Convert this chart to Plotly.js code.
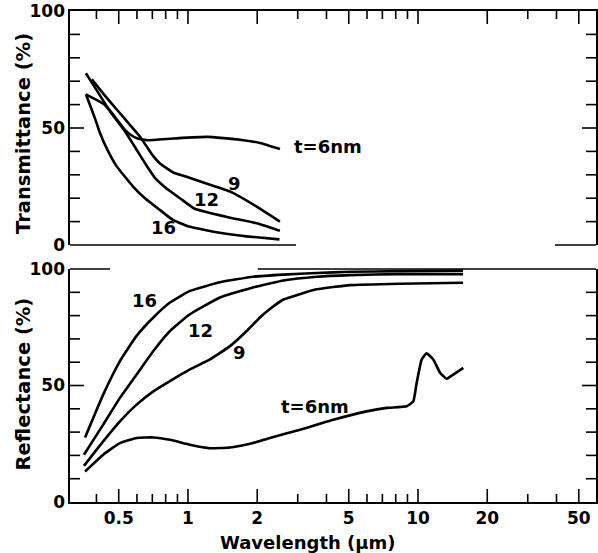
<!DOCTYPE html>
<html>
<head>
<meta charset="utf-8">
<script src="https://cdn.plot.ly/plotly-3.0.1.min.js"></script>
<style>
  html, body { margin: 0; padding: 0; background: #fff; }
  #chart { width: 598px; height: 553px; }
</style>
</head>
<body>
<div id="chart"></div>
<script>
// ---------- Data ----------
// Transmittance panel (wavelength in µm, transmittance in %)
const tWl16 = [0.36, 0.38, 0.40, 0.414, 0.45, 0.49, 0.577, 0.65, 0.75, 0.86, 1.0, 1.2, 1.42, 1.8, 2.5];
const tT16  = [64.4, 58.3, 52.3, 48.0, 40.0, 33.6, 25.0, 20.0, 15.2, 10.7, 8.0, 6.3, 5.0, 3.7, 2.4];

const tWl12 = [0.36, 0.40, 0.458, 0.532, 0.60, 0.66, 0.72, 0.82, 0.923, 1.07, 1.49, 1.99, 2.51];
const tT12  = [73.4, 66.3, 57.2, 48.6, 40.5, 34.0, 28.6, 23.6, 20.0, 15.5, 11.9, 9.3, 6.1];

const tWl9 = [0.382, 0.43, 0.49, 0.55, 0.618, 0.70, 0.756, 0.863, 1.0, 1.21, 1.52, 1.99, 2.51];
const tT9  = [70.8, 64.5, 57.9, 52.2, 46.4, 38.5, 34.8, 31.0, 29.0, 26.2, 22.9, 16.4, 10.0];

const tWl6 = [0.36, 0.43, 0.458, 0.532, 0.565, 0.60, 0.662, 0.861, 1.21, 1.68, 2.06, 2.51];
const tT6  = [64.4, 60.3, 57.4, 49.2, 47.0, 45.6, 44.8, 45.5, 46.2, 45.0, 43.6, 41.0];

// Reflectance panel (wavelength in µm, reflectance in %)
const rWl16 = [0.357, 0.428, 0.506, 0.598, 0.707, 0.835, 1.02, 1.377, 1.92, 2.6, 3.63, 5.06, 8.35, 15.7];
const rR16  = [27.7, 46.1, 60.5, 71.3, 79.2, 85.6, 90.6, 94.3, 96.7, 97.6, 98.3, 98.8, 99.1, 99.3];

const rWl12 = [0.353, 0.428, 0.506, 0.598, 0.707, 0.835, 1.02, 1.377, 1.92, 2.27, 2.6, 3.63, 5.06, 8.35, 15.7];
const rR12  = [20.3, 33.2, 44.7, 54.7, 64.8, 73.4, 80.6, 87.8, 92.1, 93.8, 95.1, 96.7, 97.4, 97.8, 97.8];

const rWl9 = [0.353, 0.428, 0.506, 0.598, 0.707, 0.835, 1.02, 1.246, 1.523, 1.80, 2.055, 2.27, 2.6, 3.63, 5.06, 8.35, 15.7];
const rR9  = [15.5, 26.0, 34.6, 41.8, 47.5, 51.9, 56.9, 61.2, 66.9, 73.4, 79.2, 82.8, 86.9, 91.3, 93.1, 93.7, 94.1];

const rWl6 = [0.357, 0.428, 0.506, 0.598, 0.707, 0.835, 1.02, 1.246, 1.523, 1.92, 2.27, 3.07, 4.28, 5.98, 7.31, 8.93, 9.54, 9.87, 10.38, 10.9, 11.65, 12.47, 13.33, 14.24, 15.74];
const rR6  = [13.1, 20.3, 25.3, 27.5, 27.7, 26.7, 24.6, 23.1, 23.4, 25.3, 27.5, 31.0, 35.3, 38.9, 40.4, 41.1, 43.2, 51.2, 61.2, 63.8, 61.2, 55.5, 52.9, 54.7, 57.6];

// Axis ticks
const xMajorTicks = [0.5, 1, 2, 5, 10, 20, 50];
const xMajorText  = ['0.5', '1', '2', '5', '10', '20', '50'];
const xMinorTicks = [0.4, 0.6, 0.7, 0.8, 0.9, 3, 4, 6, 7, 8, 9, 30, 40];
const yMajorTicks = [0, 50, 100];
const yMajorText  = ['0', '50', '100'];
const yMidTicks   = [50];
const yMinorTicks = [10, 20, 30, 40, 60, 70, 80, 90];

// Curve labels
const tLabels = [
  {text: 't=6nm', wl: 4.06, v: 42},
  {text: '9', wl: 1.6, v: 26.5},
  {text: '12', wl: 1.2, v: 19.3},
  {text: '16', wl: 0.78, v: 7.6}
];
const rLabels = [
  {text: '16', wl: 0.65, v: 86.6},
  {text: '12', wl: 1.13, v: 73.7},
  {text: '9', wl: 1.68, v: 64.1},
  {text: 't=6nm', wl: 3.57, v: 41.1}
];

// ---------- Plot ----------
const FONT = 'DejaVu Sans';
const W = 598, H = 553;
const M = {l: 70, r: 2, t: 11, b: 51};
const plotW = W - M.l - M.r, plotH = H - M.t - M.b;
const xMin = 0.307, xMax = 59.4;
const xRange = [Math.log10(xMin), Math.log10(xMax)];
const topDom = [0.5234, 1];
const botDom = [0, 0.4745];

const lineStyle = {color: '#000', width: 2.6, shape: 'spline', smoothing: 0.4};
function tr(x, y, xa, ya) {
  return {x: x, y: y, xaxis: xa, yaxis: ya, type: 'scatter', mode: 'lines',
          line: lineStyle, hoverinfo: 'skip', showlegend: false};
}
const data = [
  tr(tWl16, tT16, 'x', 'y'), tr(tWl12, tT12, 'x', 'y'),
  tr(tWl9, tT9, 'x', 'y'), tr(tWl6, tT6, 'x', 'y'),
  tr(rWl16, rR16, 'x2', 'y2'), tr(rWl12, rR12, 'x2', 'y2'),
  tr(rWl9, rR9, 'x2', 'y2'), tr(rWl6, rR6, 'x2', 'y2')
];

const tickFont = {family: FONT, size: 17, weight: 'bold', color: '#000'};
function xAxis(anchor, side, labels) {
  return {
    type: 'log', range: xRange, domain: [0, 1], anchor: anchor, side: side,
    showgrid: false, zeroline: false, showline: true, linecolor: '#000', linewidth: 1.6,
    ticks: '', tickmode: 'array', tickvals: xMajorTicks, ticktext: xMajorText,
    showticklabels: labels, tickfont: tickFont, fixedrange: true
  };
}
function yAxis(anchor, dom) {
  return {
    range: [0, 100], domain: dom, anchor: anchor, side: 'left',
    showgrid: false, zeroline: false, showline: true, linecolor: '#000', linewidth: 1.6,
    mirror: true, ticks: '', tickmode: 'array', tickvals: yMajorTicks, ticktext: yMajorText,
    tickfont: tickFont, fixedrange: true
  };
}

// Tick marks: short lines placed at each tick value through the axis range (paper units)
const tickLine = {color: '#000', width: 1.6};
const shapes = [];
const xToPaper = v => (Math.log10(v) - xRange[0]) / (xRange[1] - xRange[0]);
const yToPaper = (v, dom) => dom[0] + (v / 100) * (dom[1] - dom[0]);
function xTicks(yPaper, dir, vals, len) {
  vals.forEach(v => {
    const xp = xToPaper(v);
    shapes.push({type: 'line', xref: 'paper', yref: 'paper',
      x0: xp, x1: xp, y0: yPaper, y1: yPaper + dir * len / plotH, line: tickLine});
  });
}
function yTicks(dom, vals, len) {
  const dx = len / plotW;
  vals.forEach(v => {
    const yp = yToPaper(v, dom);
    shapes.push({type: 'line', xref: 'paper', yref: 'paper', x0: 0, x1: dx, y0: yp, y1: yp, line: tickLine});
    shapes.push({type: 'line', xref: 'paper', yref: 'paper', x0: 1, x1: 1 - dx, y0: yp, y1: yp, line: tickLine});
  });
}
xTicks(topDom[1], -1, xMajorTicks, 13);
xTicks(topDom[1], -1, xMinorTicks, 8);
xTicks(botDom[0], 1, xMajorTicks, 13);
xTicks(botDom[0], 1, xMinorTicks, 8);
yTicks(topDom, yMidTicks, 14);
yTicks(topDom, yMinorTicks, 10);
yTicks(botDom, yMidTicks, 14);
yTicks(botDom, yMinorTicks, 10);

// Frame pieces (broken lines between the two panels, as in the reference)
const frame = {color: '#000', width: 1.6};
shapes.push(
  {type: 'line', xref: 'paper', yref: 'paper', x0: 0, x1: 0.4297, y0: topDom[0], y1: topDom[0], line: frame},
  {type: 'line', xref: 'paper', yref: 'paper', x0: 0.922, x1: 1, y0: topDom[0], y1: topDom[0], line: frame},
  {type: 'line', xref: 'paper', yref: 'paper', x0: 0, x1: 0.076, y0: botDom[1], y1: botDom[1], line: frame},
  {type: 'line', xref: 'paper', yref: 'paper', x0: 0.357, x1: 1, y0: botDom[1], y1: botDom[1], line: frame}
);

const labelFont = {family: FONT, size: 18, weight: 'bold', color: '#000'};
const annotations = [];
tLabels.forEach(l => annotations.push({
  xref: 'x', yref: 'y', x: Math.log10(l.wl), y: l.v, text: l.text,
  showarrow: false, font: labelFont
}));
rLabels.forEach(l => annotations.push({
  xref: 'x2', yref: 'y2', x: Math.log10(l.wl), y: l.v, text: l.text,
  showarrow: false, font: labelFont
}));
const titleFont = {family: FONT, size: 19.5, weight: 'bold', color: '#000'};
annotations.push({xref: 'paper', yref: 'paper', x: -0.0884, y: 0.7505, textangle: -90,
  text: 'Transmittance (%)', showarrow: false, font: titleFont, xanchor: 'center', yanchor: 'middle'});
annotations.push({xref: 'paper', yref: 'paper', x: -0.0884, y: 0.2403, textangle: -90,
  text: 'Reflectance (%)', showarrow: false, font: titleFont, xanchor: 'center', yanchor: 'middle'});
annotations.push({xref: 'paper', yref: 'paper', x: 0.4525, y: -0.0835,
  text: 'Wavelength (µm)', showarrow: false,
  font: {family: FONT, size: 18, weight: 'bold', color: '#000'}, xanchor: 'center', yanchor: 'middle'});

const layout = {
  width: W, height: H,
  margin: M,
  paper_bgcolor: '#fff', plot_bgcolor: '#fff',
  showlegend: false,
  xaxis:  xAxis('y', 'top', false),
  yaxis:  yAxis('x', topDom),
  xaxis2: xAxis('y2', 'bottom', true),
  yaxis2: yAxis('x2', botDom),
  annotations: annotations,
  shapes: shapes
};

Plotly.newPlot('chart', data, layout, {staticPlot: true, displayModeBar: false});
</script>
</body>
</html>
